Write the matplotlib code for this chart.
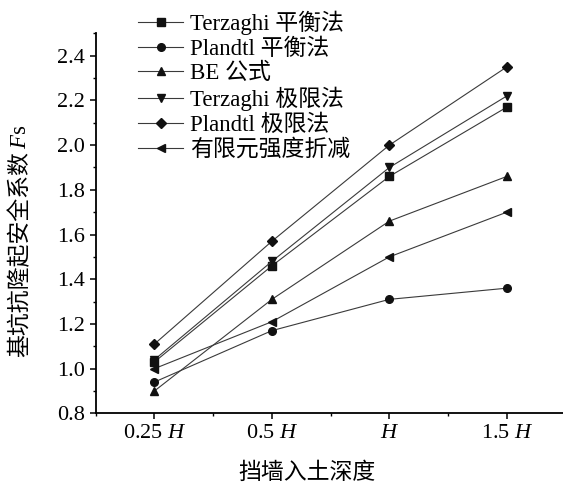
import matplotlib
matplotlib.use('Agg')
import matplotlib.pyplot as plt
from matplotlib.ticker import MultipleLocator

plt.rcParams['font.family'] = ['Liberation Serif', 'Noto Sans CJK SC']
plt.rcParams['mathtext.fontset'] = 'custom'
plt.rcParams['mathtext.rm'] = 'Liberation Serif'
plt.rcParams['mathtext.it'] = 'Liberation Serif:italic'

# embedment depth of the retaining wall
depths = [1, 2, 3, 4]
depth_labels = ['0.25 $H$', '0.5 $H$', '$H$', '1.5 $H$']

terzaghi_eq = [1.03, 1.46, 1.86, 2.17]
plandtl_eq = [0.94, 1.17, 1.31, 1.36]
be_formula = [0.90, 1.31, 1.66, 1.86]
terzaghi_lim = [1.04, 1.48, 1.90, 2.22]
plandtl_lim = [1.11, 1.57, 2.00, 2.35]
fem_srm = [1.00, 1.21, 1.50, 1.70]

series = [
    (terzaghi_eq, 's', 'Terzaghi 平衡法'),
    (plandtl_eq, 'o', 'Plandtl 平衡法'),
    (be_formula, '^', 'BE 公式'),
    (terzaghi_lim, 'v', 'Terzaghi 极限法'),
    (plandtl_lim, 'D', 'Plandtl 极限法'),
    (fem_srm, '<', '有限元强度折减'),
]
marker_sizes = {'s': 5.5, 'o': 5.5, '^': 6.2, 'v': 6.2, 'D': 5.2, '<': 6.2}

FS = 16

fig = plt.figure(figsize=(5.63, 4.84), dpi=100)
ax = fig.add_axes([0.170, 0.146, 0.8345, 0.785])

for vals, mk, name in series:
    ax.plot(depths, vals, color='#3a3a3a', lw=0.8, marker=mk,
            ms=marker_sizes[mk], mfc='#111111', mec='#111111', label=name)

ax.set_xlim(0.5, 4.5)
ax.set_ylim(0.8, 2.5)
ax.set_xticks(depths)
ax.set_xticklabels(depth_labels)
ax.xaxis.set_minor_locator(MultipleLocator(0.5))
ax.yaxis.set_major_locator(MultipleLocator(0.2))
ax.yaxis.set_minor_locator(MultipleLocator(0.1))
ax.yaxis.set_major_formatter(plt.FormatStrFormatter('%.1f'))

for side in ('top', 'right'):
    ax.spines[side].set_visible(False)
for side in ('left', 'bottom'):
    ax.spines[side].set_linewidth(1.3)

ax.tick_params(which='major', direction='out', length=4, width=1.1,
               labelsize=FS, pad=4)
ax.tick_params(which='minor', direction='out', length=2.5, width=1.0)

# y label: CJK part, then italic F and s stacked above it
ylab = fig.text(20 / 563, 0.262, '基坑抗隆起安全系数', rotation=90,
                ha='center', va='bottom', fontsize=16.5)
ax.annotate('$F$s', xy=(0.5, 1.0), xycoords=ylab, xytext=(0, 2),
            textcoords='offset points', rotation=90, ha='center',
            va='bottom', fontsize=16.5)

ax.set_xlabel('挡墙入土深度', fontsize=16.5)
ax.xaxis.set_label_coords(0.45, -0.128)

ax.legend(loc='upper left', bbox_to_anchor=(138 / 563, 0.978),
          bbox_transform=fig.transFigure, frameon=False, fontsize=16.5,
          handlelength=1.97, handletextpad=0.3, labelspacing=0.14,
          borderaxespad=0, borderpad=0)

fig.savefig('out.png', dpi=100)
